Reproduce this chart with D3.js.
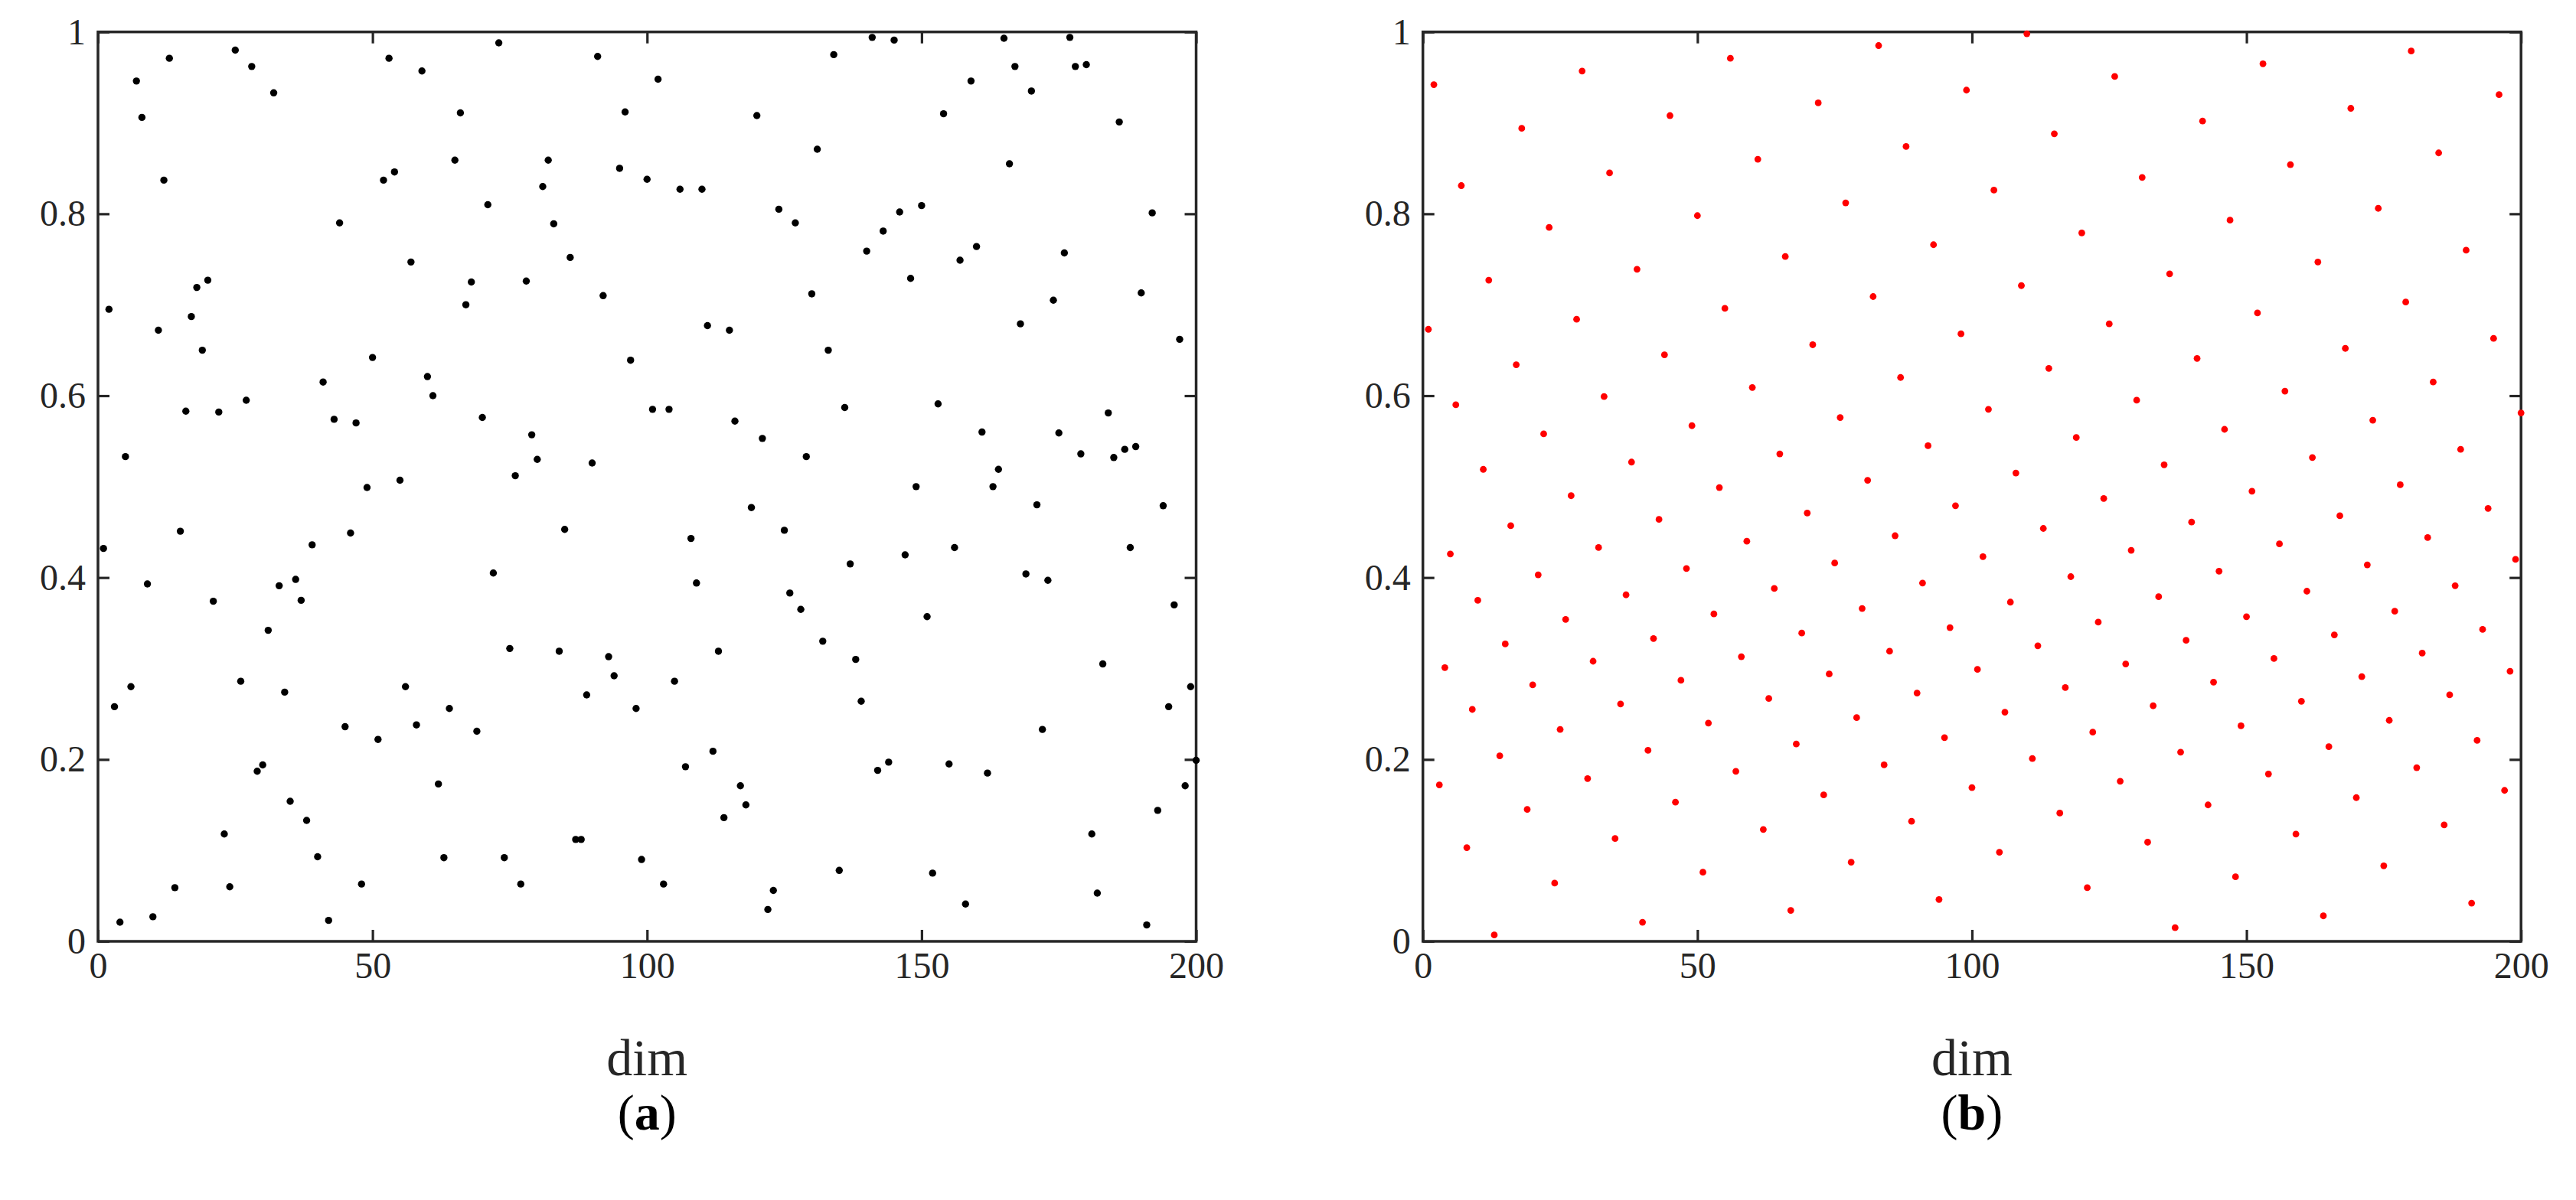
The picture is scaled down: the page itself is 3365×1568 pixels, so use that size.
<!DOCTYPE html>
<html>
<head>
<meta charset="utf-8">
<script src="https://cdn.jsdelivr.net/npm/d3@7"></script>
<style>
  html, body { margin: 0; padding: 0; background: #fff; }
  svg { display: block; }
</style>
</head>
<body>
<svg id="chart" width="3365" height="1568"></svg>
<script>
// ---------------- data ----------------
const xTicks = [0, 50, 100, 150, 200];
const yTicks = [0, 0.2, 0.4, 0.6, 0.8, 1];
const xTickLabels = ["0", "50", "100", "150", "200"];
const yTickLabels = ["0", "0.2", "0.4", "0.6", "0.8", "1"];
const xLabel = "dim";

// (a) random initialisation: value for dim 1..200
const randomValues = [
0.432,0.695,0.258,0.021,0.533,0.280,0.946,0.906,0.393,0.027,
0.672,0.837,0.971,0.059,0.451,0.583,0.687,0.719,0.650,0.727,
0.374,0.582,0.118,0.060,0.980,0.286,0.595,0.962,0.187,0.194,
0.342,0.933,0.391,0.274,0.154,0.398,0.375,0.133,0.436,0.093,
0.615,0.023,0.574,0.790,0.236,0.449,0.570,0.063,0.499,0.642,
0.222,0.837,0.971,0.846,0.507,0.280,0.747,0.238,0.957,0.621,
0.600,0.173,0.092,0.256,0.859,0.911,0.700,0.725,0.231,0.576,
0.810,0.405,0.988,0.092,0.322,0.512,0.063,0.726,0.557,0.530,
0.830,0.859,0.789,0.319,0.453,0.752,0.112,0.112,0.271,0.526,
0.973,0.710,0.313,0.292,0.850,0.912,0.639,0.256,0.090,0.838,
0.585,0.948,0.063,0.585,0.286,0.827,0.192,0.443,0.394,0.827,
0.677,0.209,0.319,0.136,0.672,0.572,0.171,0.150,0.477,0.908,
0.553,0.035,0.056,0.805,0.452,0.383,0.790,0.365,0.533,0.712,
0.871,0.330,0.650,0.975,0.078,0.587,0.415,0.310,0.264,0.759,
0.994,0.188,0.781,0.197,0.991,0.802,0.425,0.729,0.500,0.809,
0.357,0.075,0.591,0.910,0.195,0.433,0.749,0.041,0.946,0.764,
0.560,0.185,0.500,0.519,0.993,0.855,0.962,0.679,0.404,0.935,
0.480,0.233,0.397,0.705,0.559,0.757,0.994,0.962,0.536,0.964,
0.118,0.053,0.305,0.581,0.532,0.901,0.541,0.433,0.544,0.713,
0.018,0.801,0.144,0.479,0.258,0.370,0.662,0.171,0.280,0.199
];

// (b) good-point-set initialisation: value for dim 1..200
const goodPointValues = [
0.673,0.942,0.172,0.301,0.426,0.590,0.831,0.103,0.255,0.375,
0.519,0.727,0.007,0.204,0.327,0.457,0.634,0.894,0.145,0.282,
0.403,0.558,0.785,0.064,0.233,0.354,0.490,0.684,0.957,0.179,
0.308,0.433,0.599,0.845,0.113,0.261,0.381,0.527,0.739,0.021,
0.210,0.333,0.464,0.645,0.908,0.153,0.287,0.410,0.567,0.798,
0.076,0.240,0.360,0.499,0.696,0.971,0.187,0.313,0.440,0.609,
0.860,0.123,0.267,0.388,0.536,0.753,0.034,0.217,0.339,0.471,
0.656,0.922,0.161,0.294,0.416,0.576,0.812,0.087,0.246,0.366,
0.507,0.709,0.985,0.194,0.319,0.446,0.620,0.874,0.132,0.273,
0.394,0.545,0.766,0.046,0.224,0.345,0.479,0.668,0.936,0.169,
0.299,0.423,0.585,0.826,0.098,0.252,0.373,0.515,0.721,0.998,
0.201,0.325,0.454,0.630,0.888,0.141,0.279,0.401,0.554,0.779,
0.059,0.230,0.351,0.487,0.679,0.951,0.176,0.305,0.430,0.595,
0.840,0.109,0.259,0.379,0.524,0.734,0.015,0.208,0.331,0.461,
0.641,0.902,0.150,0.285,0.407,0.563,0.793,0.071,0.237,0.357,
0.495,0.691,0.965,0.184,0.311,0.437,0.605,0.854,0.118,0.264,
0.385,0.532,0.747,0.028,0.214,0.337,0.468,0.652,0.916,0.158,
0.291,0.414,0.573,0.806,0.083,0.243,0.363,0.502,0.703,0.979,
0.191,0.317,0.444,0.615,0.867,0.128,0.271,0.391,0.541,0.760,
0.042,0.221,0.343,0.476,0.663,0.931,0.166,0.297,0.420,0.581
];

const panels = [
  { values: randomValues,    color: "#000000", r: 4.7, left: 128,    caption: "a" },
  { values: goodPointValues, color: "#ff0000", r: 4.4, left: 1858.7, caption: "b" }
];

// ---------------- drawing ----------------
const svg = d3.select("#chart");
const FONT = '"Liberation Serif", "Times New Roman", serif';
const AX = "#262626";
const plotW = 1434.5, plotTop = 41.7, plotBottom = 1230;
const tickLen = 15;

panels.forEach(p => {
  const x = d3.scaleLinear().domain([0, 200]).range([p.left, p.left + plotW]);
  const y = d3.scaleLinear().domain([0, 1]).range([plotBottom, plotTop]);
  const g = svg.append("g");

  const fmtX = (d, i) => xTickLabels[i];
  const fmtY = (d, i) => yTickLabels[i];

  const styleAxis = sel => {
    sel.select(".domain").remove();
    sel.selectAll(".tick line").attr("stroke", AX).attr("stroke-width", 3.2);
    sel.selectAll(".tick text").attr("fill", AX).style("font-family", FONT).style("font-size", "48px");
  };

  g.append("g").attr("transform", `translate(0,${plotBottom})`)
    .call(d3.axisBottom(x).tickValues(xTicks).tickFormat(fmtX).tickSizeInner(-tickLen).tickSizeOuter(0).tickPadding(14))
    .call(styleAxis);
  g.append("g").attr("transform", `translate(0,${plotTop})`)
    .call(d3.axisTop(x).tickValues(xTicks).tickFormat("").tickSizeInner(-tickLen).tickSizeOuter(0))
    .call(styleAxis);
  g.append("g").attr("transform", `translate(${x(0)},0)`)
    .call(d3.axisLeft(y).tickValues(yTicks).tickFormat(fmtY).tickSizeInner(-tickLen).tickSizeOuter(0).tickPadding(16))
    .call(styleAxis);
  g.append("g").attr("transform", `translate(${x(200)},0)`)
    .call(d3.axisRight(y).tickValues(yTicks).tickFormat("").tickSizeInner(-tickLen).tickSizeOuter(0))
    .call(styleAxis);

  // frame
  g.append("rect")
    .attr("x", x(0)).attr("y", y(1))
    .attr("width", x(200) - x(0)).attr("height", y(0) - y(1))
    .attr("fill", "none").attr("stroke", AX).attr("stroke-width", 3.5);

  // points
  g.append("g").selectAll("circle")
    .data(p.values.map((v, i) => ({ dim: i + 1, v })))
    .join("circle")
    .attr("cx", d => x(d.dim))
    .attr("cy", d => y(d.v))
    .attr("r", p.r)
    .attr("fill", p.color);

  const cx = (x(0) + x(200)) / 2;
  g.append("text")
    .attr("x", cx).attr("y", 1405)
    .attr("text-anchor", "middle")
    .style("font-family", FONT).style("font-size", "68px")
    .attr("fill", AX)
    .text(xLabel);

  const cap = g.append("text")
    .attr("x", cx).attr("y", 1476)
    .attr("text-anchor", "middle")
    .style("font-family", FONT).style("font-size", "66px")
    .attr("fill", "#000");
  cap.append("tspan").text("(");
  cap.append("tspan").attr("font-weight", "bold").text(p.caption);
  cap.append("tspan").text(")");
});
</script>
</body>
</html>
